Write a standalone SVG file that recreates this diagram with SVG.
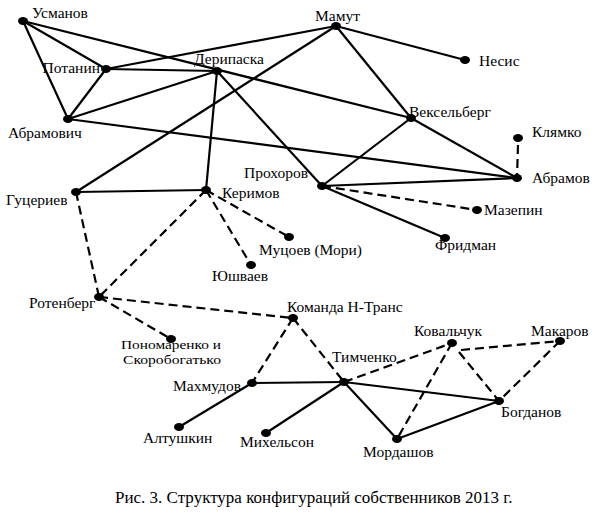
<svg xmlns="http://www.w3.org/2000/svg" width="595" height="517" viewBox="0 0 595 517">
<style>
.e{stroke:#000;stroke-width:2.2;fill:none}
.d{stroke:#000;stroke-width:2.2;fill:none;stroke-dasharray:9 5}
.n{fill:#000}
.t{font-family:'Liberation Serif','Times New Roman',serif;font-size:15.5px;fill:#000}
</style>
<rect width="595" height="517" fill="#fff"/>
<g id="connectors">
<line class="e" x1="23" y1="21" x2="106" y2="69"/>
<line class="e" x1="23" y1="21" x2="68" y2="119"/>
<line class="e" x1="23" y1="21" x2="411" y2="118"/>
<line class="e" x1="106" y1="69" x2="217" y2="71"/>
<line class="e" x1="106" y1="69" x2="336" y2="26"/>
<line class="e" x1="106" y1="69" x2="68" y2="119"/>
<line class="e" x1="68" y1="119" x2="217" y2="71"/>
<line class="e" x1="68" y1="119" x2="517" y2="178"/>
<line class="e" x1="217" y1="71" x2="206" y2="190"/>
<line class="e" x1="217" y1="71" x2="322" y2="186"/>
<line class="e" x1="76" y1="192" x2="336" y2="26"/>
<line class="e" x1="76" y1="192" x2="206" y2="190"/>
<line class="e" x1="336" y1="26" x2="465" y2="60"/>
<line class="e" x1="336" y1="26" x2="411" y2="118"/>
<line class="e" x1="411" y1="118" x2="322" y2="186"/>
<line class="e" x1="411" y1="118" x2="517" y2="178"/>
<line class="e" x1="322" y1="186" x2="517" y2="178"/>
<line class="e" x1="322" y1="186" x2="445" y2="238"/>
<line class="e" x1="252" y1="383" x2="344" y2="382"/>
<line class="e" x1="252" y1="383" x2="179" y2="427"/>
<line class="e" x1="266" y1="433" x2="344" y2="382"/>
<line class="e" x1="344" y1="382" x2="499" y2="401"/>
<line class="e" x1="344" y1="382" x2="397" y2="439"/>
<line class="e" x1="397" y1="439" x2="499" y2="401"/>
<line class="d" x1="518" y1="145" x2="517" y2="178"/>
<line class="d" x1="322" y1="186" x2="477" y2="210"/>
<line class="d" x1="76" y1="192" x2="99" y2="297"/>
<line class="d" x1="206" y1="190" x2="99" y2="297"/>
<line class="d" x1="206" y1="190" x2="289" y2="237"/>
<line class="d" x1="206" y1="190" x2="251" y2="265"/>
<line class="d" x1="99" y1="297" x2="293" y2="318"/>
<line class="d" x1="99" y1="297" x2="171" y2="339"/>
<line class="d" x1="293" y1="318" x2="252" y2="383"/>
<line class="d" x1="293" y1="318" x2="344" y2="382"/>
<line class="d" x1="344" y1="382" x2="452" y2="343"/>
<line class="d" x1="452" y1="343" x2="397" y2="439"/>
<line class="d" x1="459" y1="352" x2="499" y2="401"/>
<line class="d" x1="461" y1="350" x2="560" y2="341"/>
<line class="d" x1="560" y1="341" x2="499" y2="401"/>
</g>
<g id="usmanov"><ellipse class="n" cx="23" cy="21" rx="5" ry="4"/><text class="t" x="32" y="18">Усманов</text></g>
<g id="potanin"><ellipse class="n" cx="106" cy="69" rx="5" ry="4"/><text class="t" x="100" y="73" text-anchor="end">Потанин</text></g>
<g id="deripaska"><ellipse class="n" cx="217" cy="71" rx="5" ry="4"/><text class="t" x="194" y="64">Дерипаска</text></g>
<g id="abramovich"><ellipse class="n" cx="68" cy="119" rx="5" ry="4"/><text class="t" x="8" y="138">Абрамович</text></g>
<g id="mamut"><ellipse class="n" cx="336" cy="26" rx="5" ry="4"/><text class="t" x="315" y="21">Мамут</text></g>
<g id="nesis"><ellipse class="n" cx="465" cy="60" rx="5" ry="4"/><text class="t" x="479" y="66">Несис</text></g>
<g id="vekselberg"><ellipse class="n" cx="411" cy="118" rx="5" ry="4"/><text class="t" x="409" y="117">Вексельберг</text></g>
<g id="klyamko"><ellipse class="n" cx="518" cy="138" rx="5" ry="4"/><text class="t" x="532" y="137">Клямко</text></g>
<g id="abramov"><ellipse class="n" cx="517" cy="178" rx="5" ry="4"/><text class="t" x="532" y="183">Абрамов</text></g>
<g id="prokhorov"><ellipse class="n" cx="322" cy="186" rx="5" ry="4"/><text class="t" x="308" y="178" text-anchor="end">Прохоров</text></g>
<g id="mazepin"><ellipse class="n" cx="477" cy="210" rx="5" ry="4"/><text class="t" x="484" y="215">Мазепин</text></g>
<g id="fridman"><ellipse class="n" cx="445" cy="238" rx="5" ry="4"/><text class="t" x="435" y="250">Фридман</text></g>
<g id="gutseriev"><ellipse class="n" cx="76" cy="192" rx="5" ry="4"/><text class="t" x="6" y="205">Гуцериев</text></g>
<g id="kerimov"><ellipse class="n" cx="206" cy="190" rx="5" ry="4"/><text class="t" x="222" y="198">Керимов</text></g>
<g id="mutsoev"><ellipse class="n" cx="289" cy="237" rx="5" ry="4"/><text class="t" x="259" y="255">Муцоев (Мори)</text></g>
<g id="yushvaev"><ellipse class="n" cx="251" cy="265" rx="5" ry="4"/><text class="t" x="212" y="281">Юшваев</text></g>
<g id="rotenberg"><ellipse class="n" cx="99" cy="297" rx="5" ry="4"/><text class="t" x="29" y="308">Ротенберг</text></g>
<g id="ponomarenko"><ellipse class="n" cx="171" cy="339" rx="5" ry="4"/><text class="t" x="121" y="349" style="font-size:13.5px" textLength="100" lengthAdjust="spacingAndGlyphs">Пономаренко и</text><text class="t" x="123" y="364" style="font-size:13.5px" textLength="98" lengthAdjust="spacingAndGlyphs">Скоробогатько</text></g>
<g id="ntrans"><ellipse class="n" cx="293" cy="318" rx="5" ry="4"/><text class="t" x="287" y="312">Команда Н-Транс</text></g>
<g id="makhmudov"><ellipse class="n" cx="252" cy="383" rx="5" ry="4"/><text class="t" x="173" y="391">Махмудов</text></g>
<g id="altushkin"><ellipse class="n" cx="179" cy="427" rx="5" ry="4"/><text class="t" x="143" y="443">Алтушкин</text></g>
<g id="mikhelson"><ellipse class="n" cx="266" cy="433" rx="5" ry="4"/><text class="t" x="240" y="447">Михельсон</text></g>
<g id="timchenko"><ellipse class="n" cx="344" cy="382" rx="5" ry="4"/><text class="t" x="332" y="362">Тимченко</text></g>
<g id="kovalchuk"><ellipse class="n" cx="452" cy="343" rx="5" ry="4"/><text class="t" x="414" y="336">Ковальчук</text></g>
<g id="makarov"><ellipse class="n" cx="560" cy="341" rx="5" ry="4"/><text class="t" x="531" y="336">Макаров</text></g>
<g id="bogdanov"><ellipse class="n" cx="499" cy="401" rx="5" ry="4"/><text class="t" x="501" y="417">Богданов</text></g>
<g id="mordashov"><ellipse class="n" cx="397" cy="439" rx="5" ry="4"/><text class="t" x="363" y="457">Мордашов</text></g>
<text class="t" x="115" y="503" style="font-size:17px">Рис. 3. Структура конфигураций собственников 2013 г.</text>
</svg>
